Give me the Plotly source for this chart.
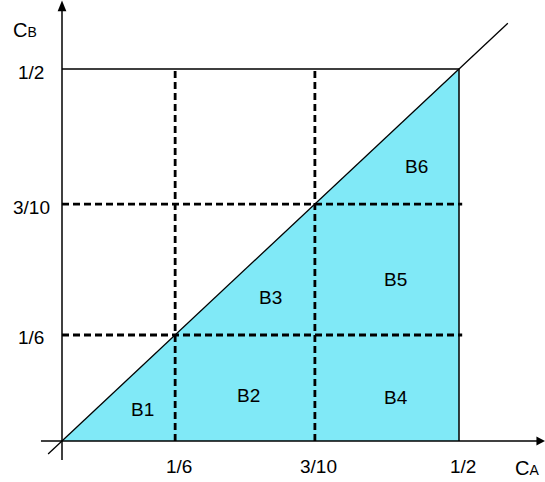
import plotly.graph_objects as go

# --- data (diagram is schematic, tick positions are not to scale) ---
tick_labels = ["1/6", "3/10", "1/2"]
tick_pos = [0.285, 0.637, 1.0]

region_names = ["B1", "B2", "B3", "B4", "B5", "B6"]
region_u = [0.202, 0.471, 0.524, 0.841, 0.841, 0.892]
region_v = [0.086, 0.121, 0.387, 0.118, 0.435, 0.739]

# --- style ---
FONT = "Liberation Sans, Arial, sans-serif"
FILL = "#80E9F7"
BLACK = "#000000"
W, H = 545, 482
DASH = dict(color=BLACK, width=2.8, dash="7px,4px")

top = tick_pos[-1]

fig = go.Figure()

# shaded triangle under the diagonal
fig.add_trace(go.Scatter(
    x=[0, top, top, 0], y=[0, 0, top, 0],
    fill="toself", fillcolor=FILL, mode="lines",
    line=dict(width=0, color=FILL), hoverinfo="skip"))

# dashed grid at the inner ticks
for p in tick_pos[:-1]:
    fig.add_trace(go.Scatter(x=[p, p], y=[0, top], mode="lines", line=DASH, hoverinfo="skip"))
    fig.add_trace(go.Scatter(x=[0, top * 1.008], y=[p, p], mode="lines", line=DASH, hoverinfo="skip"))

# solid frame at 1/2 and the diagonal
fig.add_trace(go.Scatter(x=[0, top, top], y=[top, top, 0], mode="lines",
                         line=dict(color=BLACK, width=1.5), hoverinfo="skip"))
fig.add_trace(go.Scatter(x=[-0.035, 1.123], y=[-0.035, 1.123], mode="lines",
                         line=dict(color=BLACK, width=1.3), hoverinfo="skip"))

# axes
x_end, y_end = 1.205, 1.165
fig.add_trace(go.Scatter(x=[-0.053, x_end], y=[0, 0], mode="lines",
                         line=dict(color=BLACK, width=1.5), hoverinfo="skip"))
fig.add_trace(go.Scatter(x=[0, 0], y=[-0.051, y_end], mode="lines",
                         line=dict(color=BLACK, width=1.5), hoverinfo="skip"))

# arrow heads
fig.add_shape(type="path", fillcolor=BLACK, line=dict(width=0),
              path=f"M {x_end - 0.01},-0.012 L {x_end + 0.012},0 L {x_end - 0.01},0.012 Z")
fig.add_shape(type="path", fillcolor=BLACK, line=dict(width=0),
              path=f"M -0.011,{y_end - 0.01} L 0,{y_end + 0.019} L 0.011,{y_end - 0.01} Z")

# tick labels
for lab, p in zip(tick_labels, tick_pos):
    fig.add_annotation(x=p, y=0, text=lab, showarrow=False, xshift=4, yshift=-25,
                       font=dict(family=FONT, size=19, color=BLACK))
    fig.add_annotation(x=0, y=p, text=lab, showarrow=False,
                       xshift=-31, yshift=-3,
                       font=dict(family=FONT, size=19, color=BLACK))

# region labels
for name, u, v in zip(region_names, region_u, region_v):
    fig.add_annotation(x=u, y=v, text=name, showarrow=False,
                       font=dict(family=FONT, size=19, color=BLACK))

# axis names
fig.add_annotation(x=0, y=y_end, text='<span style="font-size:20px">C</span>B',
                   showarrow=False, xanchor="right", xshift=-23, yshift=-22,
                   font=dict(family=FONT, size=14, color=BLACK))
fig.add_annotation(x=x_end, y=0, text='<span style="font-size:20px">C</span>A',
                   showarrow=False, xanchor="right", xshift=1, yshift=-27,
                   font=dict(family=FONT, size=14, color=BLACK))

fig.update_layout(
    width=W, height=H,
    margin=dict(l=0, r=0, t=0, b=0, pad=0),
    plot_bgcolor="white", paper_bgcolor="white",
    showlegend=False,
    xaxis=dict(range=[-62 / 397, 483 / 397], visible=False, fixedrange=True),
    yaxis=dict(range=[-41 / 372, 441 / 372], visible=False, fixedrange=True),
)

# the page body has an 8px default margin; drop it so the figure fills the window
fig.write_html("out.html", config={"displayModeBar": False},
               post_script="document.body.style.margin='0';")
